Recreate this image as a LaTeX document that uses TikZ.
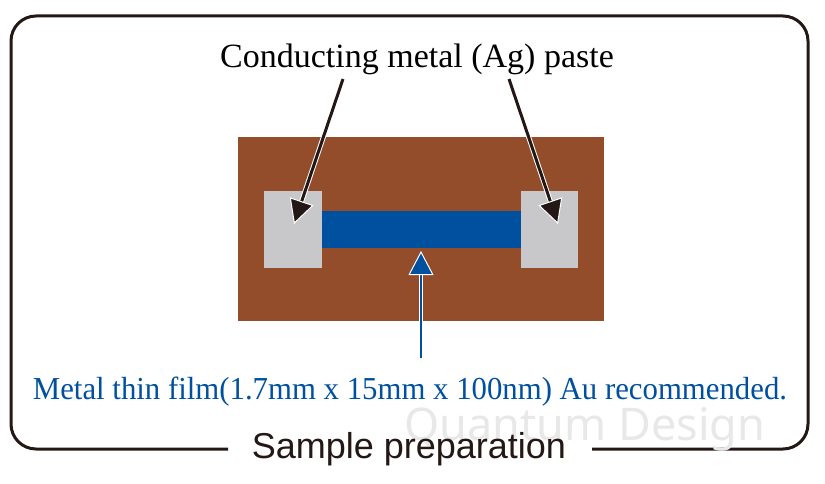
\documentclass[tikz,border=0pt]{standalone}
\usepackage{fontspec}
\setmainfont{Liberation Serif}
\newfontfamily\helv{Liberation Sans}
\newfontfamily\wmark{Noto Sans}
\usetikzlibrary{arrows.meta}
\definecolor{framek}{HTML}{231815}
\definecolor{subbrown}{HTML}{934D2B}
\definecolor{padgray}{HTML}{C8C8CA}
\definecolor{filmblue}{HTML}{0050A0}
\tikzset{
  block/.style={rectangle, inner sep=0pt, outer sep=0pt, draw=none},
  blackarrow/.style={draw=framek, line width=3pt,
    -{Triangle[length=24pt,width=25pt,color=white,fill=framek,line width=1pt]},
    preaction={draw=white,line width=5pt,-,shorten >=12pt}},
  bluearrow/.style={draw=filmblue, line width=2.8pt,
    -{Triangle[length=24pt,width=25pt,color=white,fill=filmblue,line width=1pt]},
    preaction={draw=white,line width=4.8pt,-,shorten >=12pt}},
  lbl/.style={inner sep=0pt, anchor=base}
}
\begin{document}
\begin{tikzpicture}[x=1pt,y=-1pt]
\useasboundingbox (0,0) rectangle (825,484);
% frame
\draw[framek, line width=3pt, rounded corners=25pt]
  (228,449) -- (11,449) -- (11,16) -- (808,16) -- (808,449) -- (592,449);
% substrate, pads, film
\node[block, fill=subbrown, minimum width=366pt, minimum height=184pt] (sub) at (421,229) {};
\node[block, fill=padgray, minimum width=58pt, minimum height=77pt] (padL) at (293,229.5) {};
\node[block, fill=padgray, minimum width=57pt, minimum height=77pt] (padR) at (549.5,229.5) {};
\node[block, fill=filmblue, minimum width=199pt, minimum height=37pt] (film) at (421.5,229.5) {};
% labels
\node[lbl, font=\fontsize{34}{34}\selectfont, text=black] (paste) at (417,68) {Conducting metal (Ag) paste};
\node[lbl, font=\fontsize{32}{32}\selectfont, text=filmblue] (filmtxt) at (410,399)
  {\scalebox{0.962}[1]{Metal thin film(1.7mm x 15mm x 100nm) Au recommended.}};
\node[lbl, font=\wmark\fontsize{45}{45}\selectfont, text=black!9] (qd) at (585,440) {Quantum Design};
\node[lbl, font=\helv\fontsize{36}{36}\selectfont, text=framek] (title) at (409,458) {Sample preparation};
% arrows
\coordinate (aLs) at (343,79);
\coordinate (aLt) at (294,224);
\coordinate (aRs) at (509,79);
\coordinate (aRt) at (558,224);
\coordinate (aBs) at (421,358);
\coordinate (aBt) at (421,251);
\draw[blackarrow] (aLs) -- (aLt);
\draw[blackarrow] (aRs) -- (aRt);
\draw[bluearrow] (aBs) -- (aBt);
\end{tikzpicture}
\end{document}
